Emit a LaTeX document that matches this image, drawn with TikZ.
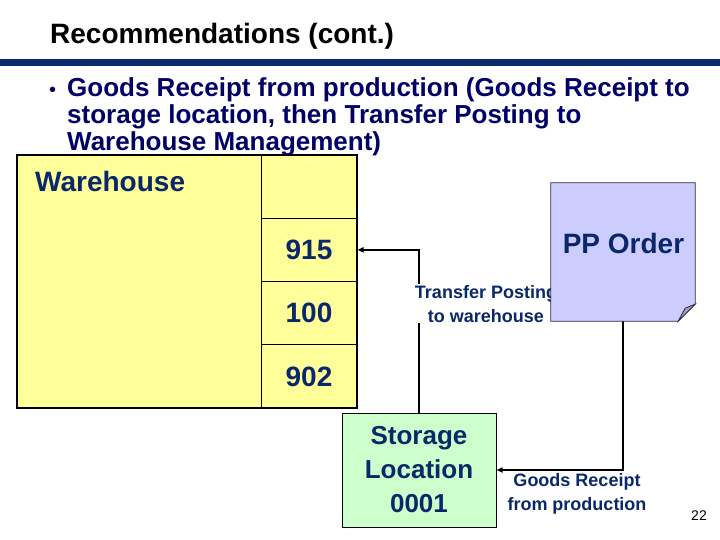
\documentclass[tikz,border=0pt]{standalone}
\usepackage{fontspec}
\setmainfont{Liberation Sans}
\usetikzlibrary{arrows.meta,calc}
\definecolor{barblue}{RGB}{10,44,110}
\definecolor{bulnavy}{RGB}{0,0,102}
\definecolor{labnavy}{RGB}{10,40,105}
\definecolor{whyellow}{RGB}{255,255,153}
\definecolor{stgreen}{RGB}{204,255,204}
\definecolor{pplav}{RGB}{204,204,255}
\definecolor{ppfold}{RGB}{160,160,200}
\definecolor{ppedge}{RGB}{40,40,60}
\tikzset{
  biglbl/.style={font=\fontsize{28}{34}\selectfont\bfseries, text=labnavy, inner sep=0},
  smalllbl/.style={font=\fontsize{18}{24}\selectfont\bfseries, text=labnavy, inner sep=1pt, align=center},
  cellbox/.style={draw=black, line width=1pt, minimum width=96pt, minimum height=63.25pt, inner sep=0,
    font=\fontsize{28}{34}\selectfont\bfseries, text=labnavy},
  conn/.style={line width=1.5pt, -{Triangle[length=6pt,width=5pt]}},
}
\begin{document}
\begin{tikzpicture}[x=1pt,y=-1pt]
\useasboundingbox (0,0) rectangle (720,540);
% title and bar
\node[anchor=base west, inner sep=0, font=\fontsize{28}{34}\selectfont\bfseries] (title) at (50,44) {Recommendations (cont.)};
\fill[barblue] (0,59) rectangle (720,66);
% warehouse
\node[fill=whyellow, minimum width=340pt, minimum height=253pt, inner sep=0] (wh) at (187,281.5) {};
\node[cellbox] (c0) at (309,186.625) {};
\node[cellbox] (c915) at (309,249.875) {915};
\node[cellbox] (c100) at (309,313.125) {100};
\node[cellbox] (c902) at (309,376.375) {902};
\draw[line width=2pt] (wh.north west) rectangle (wh.south east);
\node[biglbl, anchor=base west] (whl) at (35,192) {Warehouse};
% bullet
\node[anchor=base west, inner sep=0, text=bulnavy, font=\fontsize{20}{20}\selectfont] (bul) at (49,97) {\textbullet};
\node[anchor=base west, align=left, inner sep=0, text=bulnavy, font=\fontsize{26}{27}\selectfont\bfseries] (btxt) at (67,151)
  {Goods Receipt from production (Goods Receipt to\\storage location, then Transfer Posting to\\Warehouse Management)};
% storage location
\node[draw=black, line width=1pt, fill=stgreen, minimum width=154pt, minimum height=114pt, inner sep=0,
  align=center, font=\fontsize{26}{34}\selectfont\bfseries, text=labnavy] (stor) at (419,470) {Storage\\Location\\0001};
% PP order (frame only, shape drawn below)
\node[minimum width=144pt, minimum height=138pt, inner sep=0] (pp) at (623,252) {};
% connectors
\draw[conn] (stor.north) |- (c915.east);
\draw[conn] (pp.south) |- (stor.east);
\node[smalllbl, fill=white, anchor=base] (tpl) at (486,322) {Transfer Posting\\to warehouse};
% PP order shape
\filldraw[fill=pplav, draw=ppedge, line width=0.8pt] (pp.north west) -- (pp.north east) -- ($(pp.south east)+(0,-17)$)
  -- ($(pp.south east)+(-17,0)$) -- (pp.south west) -- cycle;
\filldraw[fill=ppfold, draw=ppedge, line width=0.8pt] ($(pp.south east)+(0,-17)$) -- ($(pp.south east)+(-10,-13)$)
  -- ($(pp.south east)+(-17,0)$) -- cycle;
\node[biglbl] (ppt) at (623.5,243) {PP Order};
\node[smalllbl, anchor=base] (grl) at (577,510) {Goods Receipt\\from production};
\node[anchor=base east, inner sep=0, font=\fontsize{14}{16}\selectfont] (pg) at (707,520) {22};
\end{tikzpicture}
\end{document}
